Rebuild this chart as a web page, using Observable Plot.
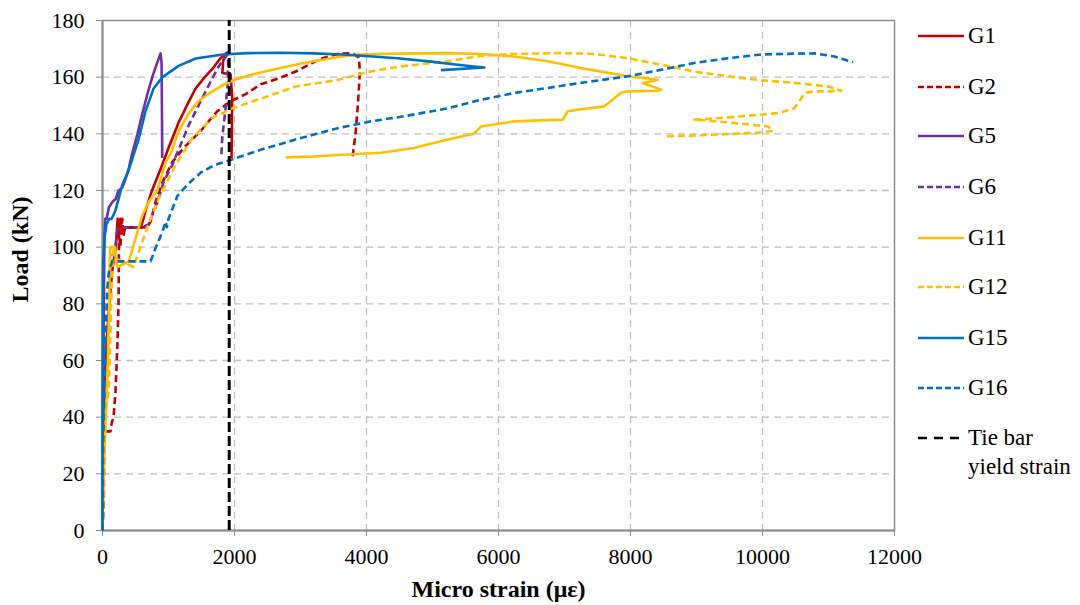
<!DOCTYPE html>
<html>
<head>
<meta charset="utf-8">
<script src="https://cdn.jsdelivr.net/npm/d3@7"></script>
<script src="https://cdn.jsdelivr.net/npm/@observablehq/plot@0.6"></script>
<style>
  html, body { margin: 0; padding: 0; background: #fff; }
  #wrap { position: relative; width: 1080px; height: 605px; font-family: "Liberation Serif", "Times New Roman", Times, serif !important; }
  #wrap svg, #wrap svg text { font-family: "Liberation Serif", "Times New Roman", Times, serif !important; }
  g[aria-label="x-axis label"] text { font-weight: bold; font-size: 24px; }
  #legend { position: absolute; left: 918px; top: 0; }
  .row { position: absolute; left: 0; white-space: nowrap; font-size: 23px; line-height: 29px; color: #000; font-family: "Liberation Serif", "Times New Roman", Times, serif !important; }
  .row svg { position: absolute; left: 0; top: 12px; }
  .row span { position: absolute; left: 50px; top: 0; }
</style>
</head>
<body>
<div id="wrap"></div>
<script>
// Series names and styles
const seriesNames = ["G1", "G2", "G5", "G6", "G11", "G12", "G15", "G16"];
const seriesColors = ["#C00000", "#C00000", "#7030A0", "#7030A0", "#FFC000", "#FFC000", "#0070C0", "#0070C0"];
const seriesDashed = [false, true, false, true, false, true, false, true];

// [micro strain, load kN]
const G1 = [[0,0],[10,25],[30,50],[60,65],[100,80],[150,92],[200,100],[230,110],[240,104],[270,110],[290,107],[400,107],[580,107],[620,110],[652,113],[750,120],[905,129],[1000,135],[1153,144],[1300,151],[1411,156],[1550,160],[1668,163],[1780,166.5],[1866,168.4],[1906,168.8],[1830,166],[1816,161.5],[1940,161],[1965,153],[1960,140],[1955,131.5]];
const G2 = [[0,0],[20,10],[25,34],[50,35],[121,35],[140,38],[167,40],[197,49],[228,67],[243,80],[248,95],[250,105],[270,100],[300,110],[320,104],[340,107],[680,107],[728,109],[804,116],[910,123],[1057,130],[1229,135],[1487,141],[1740,148],[1942,151.5],[2170,154],[2397,157.5],[2670,159.6],[2928,162],[3307,166.5],[3560,168.2],[3787,168.5],[3884,167],[3900,162],[3870,150.4],[3838,141],[3787,131.5]];
const G5 = [[0,0],[10,40],[20,80],[30,105],[40,110],[60,110],[80,112],[96,114],[150,116],[200,117],[243,120],[298,121],[349,124],[400,128],[450,133],[530,140],[602,147],[680,154],[754,160],[820,164.5],[880,168.4],[895,165],[900,150],[905,131.5]];
const G6 = [[0,0],[20,30],[50,50],[80,60],[110,75],[130,90],[150,97],[197,100],[220,105],[240,107],[600,107],[698,108],[834,116],[925,123],[1057,129],[1305,143],[1563,155],[1760,163.8],[1890,168],[1905,165],[1895,157],[1860,148],[1816,139],[1800,132]];
const G11 = [[0,0],[20,20],[50,40],[80,60],[100,80],[110,95],[120,100],[190,100],[200,95],[230,93],[400,95],[500,103],[600,111],[700,116],[830,120],[956,130],[1032,133],[1153,141],[1300,147],[1450,151.5],[1664,155],[1850,157.5],[1992,159],[2200,160.5],[2423,161.8],[2700,163.2],[3049,165],[3560,167],[3864,168],[4470,168.3],[5230,168.5],[5734,168.2],[6236,167.3],[6746,165.6],[7251,163.2],[7960,160.3],[8414,159.1],[8187,157.9],[8465,155.6],[8400,155.2],[7960,155],[7858,154.5],[7605,149.7],[7201,148.5],[7049,148],[6973,145],[6236,144.4],[5734,142.6],[5628,140],[5230,138],[4718,135],[4220,133.3],[3712,132.7],[3200,132],[2776,131.7]];
const G12 = [[0,0],[20,20],[40,38],[60,45],[91,49],[110,60],[130,80],[150,92],[170,100],[200,96],[470,93],[576,100],[728,110],[850,117],[1107,129],[1360,138.5],[1664,145.6],[1968,149],[2423,152.6],[2928,156.7],[3560,159],[4065,162],[4520,163.8],[5230,165.6],[5734,167.5],[6236,168.2],[6948,168.5],[7448,168.2],[7960,166.7],[8465,164.4],[8965,162],[9477,160.3],[9982,158.9],[10483,158],[10995,156.7],[11195,155.2],[10995,155],[10786,155],[10634,154.4],[10589,152.6],[10483,149],[10235,147.3],[9477,145.8],[8965,145],[9100,144.8],[9500,144],[10083,142.6],[10158,141],[9932,140.4],[9072,139.5],[8515,139.1]];
const G15 = [[0,0],[0,40],[5,80],[10,95],[30,103],[60,108],[100,110],[140,110],[197,113],[300,122],[394,127],[546,138],[652,148],[774,156],[910,160],[1153,164],[1411,166.6],[1820,168],[2200,168.5],[2700,168.6],[3200,168.4],[3712,167.9],[4470,166.7],[4976,165.5],[5481,164.1],[5785,163.4],[5127,162.5]];
const G16 = [[0,0],[10,30],[30,50],[50,70],[70,85],[100,92],[150,95],[197,95],[728,95],[804,99.7],[910,105.6],[956,109],[975,107],[1000,110],[1133,118],[1305,122.5],[1500,126.5],[1700,129],[1942,130.8],[2397,134.4],[2928,138],[3560,142],[4065,144.4],[4520,146],[5230,149],[5734,152],[6236,154.4],[6746,156.2],[7251,158],[7960,160.3],[8465,162.6],[8965,165],[9477,166.7],[9982,168],[10483,168.3],[10786,168.4],[11090,167.3],[11373,165.3]];
const seriesData = [G1, G2, G5, G6, G11, G12, G15, G16];

const tieBarYield = 1920;
const xTicks = [0, 2000, 4000, 6000, 8000, 10000, 12000];
const yTicks = [0, 20, 40, 60, 80, 100, 120, 140, 160, 180];
const xTitle = "Micro strain (με)";
const yTitle = "Load (kN)";
const tieLabel = ["Tie bar", "yield strain"];

const rows = seriesNames.flatMap((name, i) => seriesData[i].map(([x, y], k) => ({name, x, y, k})));

const serif = "'Liberation Serif', 'Times New Roman', Times, serif";
const gridStyle = {stroke: "#BFBFBF", strokeOpacity: 1, strokeWidth: 1.3, strokeDasharray: "7,5"};
const lineMarks = seriesNames.map((name, i) =>
  Plot.line(rows.filter(d => d.name === name), {
    x: "x", y: "y", stroke: seriesColors[i], strokeWidth: 2.6,
    strokeDasharray: seriesDashed[i] ? "7,4" : null,
    strokeLinejoin: "round", strokeLinecap: "butt"
  })
);

const chart = Plot.plot({
  width: 1080,
  height: 605,
  marginLeft: 102,
  marginRight: 186,
  marginTop: 20,
  marginBottom: 75,
  style: {fontSize: "22px", fontFamily: serif, color: "#000", background: "#fff"},
  x: {domain: [0, 12000]},
  y: {domain: [0, 180]},
  marks: [
    Plot.gridX(xTicks.filter(t => t > 0 && t < 12000), gridStyle),
    Plot.gridY(yTicks.filter(t => t > 0 && t < 180), gridStyle),
    Plot.frame({stroke: "#8C8C8C", strokeWidth: 1.5}),
    Plot.axisX(xTicks, {tickSize: 6, tickPadding: 12, stroke: "#8C8C8C", tickFormat: d => String(d), label: xTitle, labelAnchor: "center", labelArrow: "none", labelOffset: 66, fontSize: 22, fontFamily: serif}),
    Plot.axisY(yTicks, {tickSize: 6, tickPadding: 12, stroke: "#8C8C8C", tickFormat: d => String(d), label: null, fontSize: 22, fontFamily: serif}),
    Plot.text([yTitle], {frameAnchor: "left", rotate: -90, dx: -82, dy: -26, fontWeight: "bold", fontSize: 24, fontFamily: serif, fill: "#000", textAnchor: "middle", lineAnchor: "middle"}),
    Plot.ruleX([0], {stroke: "#8C8C8C", strokeWidth: 2}),
    Plot.ruleY([0], {stroke: "#8C8C8C", strokeWidth: 2}),
    ...lineMarks,
    Plot.ruleX([tieBarYield], {y1: 0, y2: 180, stroke: "#000", strokeWidth: 3, strokeDasharray: "10,4"})
  ]
});

const wrap = document.getElementById("wrap");
wrap.appendChild(chart);

// Legend (right side)
const legend = document.createElement("div");
legend.id = "legend";
const rowTops = [21, 72, 121, 172, 223, 272, 323, 373];
seriesNames.forEach((name, i) => {
  const r = document.createElement("div");
  r.className = "row";
  r.style.top = rowTops[i] + "px";
  r.innerHTML = `<svg width="46" height="6"><line x1="0" x2="46" y1="3" y2="3" stroke="${seriesColors[i]}" stroke-width="2.5" ${seriesDashed[i] ? 'stroke-dasharray="6,3"' : ''}/></svg><span>${name}</span>`;
  legend.appendChild(r);
});
const tr = document.createElement("div");
tr.className = "row";
tr.style.top = "423px";
tr.innerHTML = `<svg width="46" height="6"><line x1="0" x2="46" y1="3" y2="3" stroke="#000" stroke-width="2.5" stroke-dasharray="9,7"/></svg><span>${tieLabel[0]}<br>${tieLabel[1]}</span>`;
legend.appendChild(tr);
wrap.appendChild(legend);
</script>
</body>
</html>
